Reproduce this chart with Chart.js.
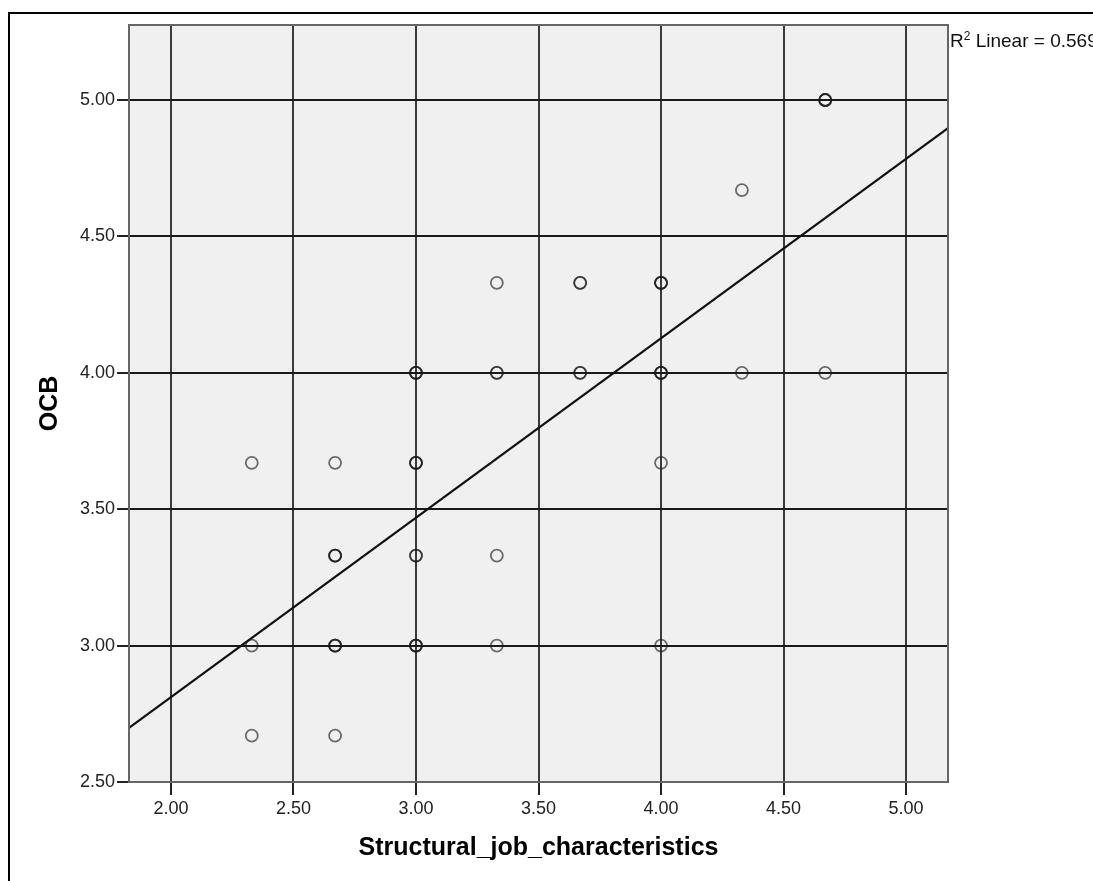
<!DOCTYPE html>
<html>
<head>
<meta charset="utf-8">
<script src="https://cdn.jsdelivr.net/npm/chart.js@4.4.1/dist/chart.umd.min.js"></script>
<style>
  html, body { margin: 0; padding: 0; background: #fff; }
  #wrap { position: relative; width: 1093px; height: 881px; overflow: hidden; }
  #frame { position: absolute; left: 8px; top: 12px; width: 1200px; height: 1000px;
           border-left: 2px solid #000; border-top: 2px solid #000; }
  #myChart { position: absolute; left: 0; top: 0; }
  #r2 { position: absolute; left: 950px; top: 31px; font: 19px "Liberation Sans", Arial, sans-serif;
        line-height: 19px; color: #111; white-space: nowrap; }
  #r2 sup { font-size: 12px; vertical-align: 0; position: relative; top: -7px; }
</style>
</head>
<body>
<div id="wrap">
  <div id="frame"></div>
  <canvas id="myChart" width="1093" height="881"></canvas>
  <div id="r2">R<sup>2</sup> Linear = 0.569</div>
</div>
<script>
// scatter values (repeated entries = overlapping cases)
const structural = [
  4.67, 4.67, 4.67,
  4.33,
  3.33, 3.67, 3.67, 4.00, 4.00, 4.00,
  3.00, 3.00, 3.00, 3.33, 3.33, 3.67, 3.67, 4.00, 4.00, 4.00, 4.33, 4.67,
  2.33, 2.67, 3.00, 3.00, 3.00, 4.00,
  2.67, 2.67, 2.67, 3.00, 3.00, 3.33,
  2.33, 2.67, 2.67, 2.67, 3.00, 3.00, 3.00, 3.33, 4.00,
  2.33, 2.67,
];
const ocb = [
  5.00, 5.00, 5.00,
  4.67,
  4.33, 4.33, 4.33, 4.33, 4.33, 4.33,
  4.00, 4.00, 4.00, 4.00, 4.00, 4.00, 4.00, 4.00, 4.00, 4.00, 4.00, 4.00,
  3.67, 3.67, 3.67, 3.67, 3.67, 3.67,
  3.33, 3.33, 3.33, 3.33, 3.33, 3.33,
  3.00, 3.00, 3.00, 3.00, 3.00, 3.00, 3.00, 3.00, 3.00,
  2.67, 2.67,
];

// fit line, read at the plot edges
const fitX = [1.829, 5.171];
const fitY = [2.698, 4.897];

// tick labels
const xTicks = [2.00, 2.50, 3.00, 3.50, 4.00, 4.50, 5.00];
const yTicks = [2.50, 3.00, 3.50, 4.00, 4.50, 5.00];

const fontFamily = '"Liberation Sans", Arial, sans-serif';

const plotBox = {
  id: 'plotBox',
  beforeDraw(chart) {
    const a = chart.chartArea, ctx = chart.ctx;
    ctx.save();
    ctx.fillStyle = '#f0f0f0';
    ctx.fillRect(a.left, a.top, a.right - a.left, a.bottom - a.top);
    ctx.restore();
  },
  afterDraw(chart) {
    const a = chart.chartArea, ctx = chart.ctx;
    ctx.save();
    ctx.strokeStyle = '#666';
    ctx.lineWidth = 2;
    ctx.strokeRect(a.left, a.top, a.right - a.left, a.bottom - a.top);
    ctx.restore();
  }
};

const data = {
  datasets: [
    {
      type: 'scatter',
      label: 'OCB',
      data: structural.map((x, i) => ({ x: x, y: ocb[i] })),
      pointStyle: 'circle',
      pointRadius: 6,
      pointBorderWidth: 1.8,
      pointBorderColor: 'rgba(25,25,25,0.62)',
      pointBackgroundColor: 'rgba(0,0,0,0)',
      order: 1,
    },
    {
      type: 'line',
      label: 'Linear fit',
      data: fitX.map((x, i) => ({ x: x, y: fitY[i] })),
      borderColor: '#111',
      borderWidth: 2.2,
      pointRadius: 0,
      fill: false,
      order: 2,
    },
  ]
};

const config = {
  type: 'scatter',
  data: data,
  plugins: [plotBox],
  options: {
    responsive: false,
    animation: false,
    devicePixelRatio: 1,
    layout: { padding: { left: 0, top: 25, right: 145, bottom: 0 } },
    plugins: {
      legend: { display: false },
      tooltip: { enabled: false },
    },
    scales: {
      x: {
        type: 'linear',
        min: 1.829,
        max: 5.171,
        afterBuildTicks: (scale) => { scale.ticks = xTicks.map(v => ({ value: v })); },
        afterFit: (scale) => { scale.height = 99; },
        grid: {
          color: '#3a3a3a',
          lineWidth: 2,
          drawTicks: true,
          tickLength: 13,
          tickColor: '#222',
        },
        border: { display: false },
        ticks: {
          padding: 3,
          color: '#222',
          font: { family: fontFamily, size: 18 },
          callback: (v) => Number(v).toFixed(2),
        },
        title: {
          display: true,
          text: 'Structural_job_characteristics',
          color: '#000',
          font: { family: fontFamily, size: 25, weight: 'bold' },
          padding: { top: 0, bottom: 18 },
        },
      },
      y: {
        type: 'linear',
        min: 2.5,
        max: 5.275,
        afterBuildTicks: (scale) => { scale.ticks = yTicks.map(v => ({ value: v })); },
        afterFit: (scale) => { scale.width = 129; },
        grid: {
          color: '#1a1a1a',
          lineWidth: 2,
          drawTicks: true,
          tickLength: 12,
          tickColor: '#222',
        },
        border: { display: false },
        ticks: {
          padding: 2,
          color: '#222',
          font: { family: fontFamily, size: 18 },
          callback: (v) => Number(v).toFixed(2),
        },
        title: {
          display: true,
          text: 'OCB',
          color: '#000',
          font: { family: fontFamily, size: 25, weight: 'bold' },
          padding: { top: 35, bottom: 0 },
        },
      },
    }
  },
};

var myChart = new Chart(
  document.getElementById('myChart'),
  config
);
</script>
</body>
</html>
